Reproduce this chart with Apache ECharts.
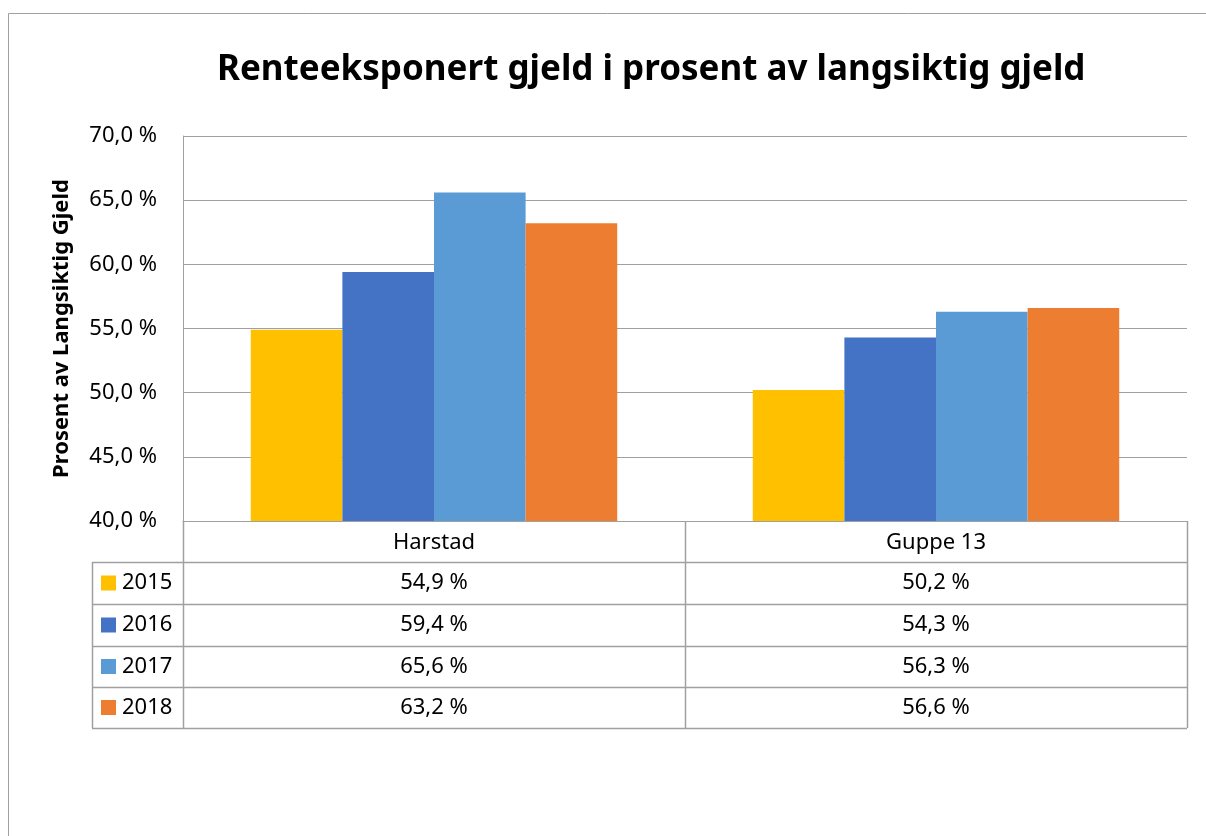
<!DOCTYPE html>
<html lang="no">
<head>
    <meta charset="utf-8" />
    <title>Renteeksponert gjeld</title>
    <script type="text/javascript" src="https://cdn.jsdelivr.net/npm/echarts@6/dist/echarts.min.js"></script>
    <style type="text/css">
        html, body { margin: 0; padding: 0; background: #fff; }
    </style>
</head>
<body>
    <div id="main" style="width:1206px;height:836px;"></div>

    <script type="text/javascript">
        var categories = ['Harstad', 'Guppe 13'];
        var years = ['2015', '2016', '2017', '2018'];
        var values_2015 = [54.9, 50.2];
        var values_2016 = [59.4, 54.3];
        var values_2017 = [65.6, 56.3];
        var values_2018 = [63.2, 56.6];
        var yearColors = ['#FFC000', '#4472C4', '#5B9BD5', '#ED7D31'];
        var yTicks = [40, 45, 50, 55, 60, 65, 70];

        var allValues = [values_2015, values_2016, values_2017, values_2018];
        var fontFam = '"Noto Sans", sans-serif';
        var lineCol = '#A0A0A0';

        function pct(v) {
            return v.toFixed(1).replace('.', ',') + ' %';
        }

        var myChart = echarts.init(document.getElementById('main'));

        // table layout
        var plotLeft = 183, plotRight = 1187, axisY = 521;
        var tableLeft = 92;
        var rowLines = [562, 604, 646, 687, 728];

        var series = [];
        for (var i = 0; i < years.length; i++) {
            series.push({
                name: years[i],
                type: 'bar',
                data: allValues[i],
                barGap: '0%',
                barCategoryGap: '27%',
                itemStyle: { color: yearColors[i] }
            });
        }

        var option = {
            animation: false,
            backgroundColor: '#fff',
            title: {
                text: 'Renteeksponert gjeld i prosent av langsiktig gjeld',
                left: 212,
                top: 48,
                textStyle: { fontFamily: fontFam, fontSize: 35, fontWeight: 'bold', color: '#000' }
            },
            grid: { left: plotLeft, right: 1206 - plotRight, top: 136, bottom: 836 - axisY },
            xAxis: {
                type: 'category',
                data: categories,
                axisLine: { show: true, lineStyle: { color: lineCol, width: 1 } },
                axisTick: { show: false },
                axisLabel: { margin: 11, fontFamily: fontFam, fontSize: 22, color: '#000' }
            },
            yAxis: {
                type: 'value',
                min: yTicks[0],
                max: yTicks[yTicks.length - 1],
                interval: 5,
                name: 'Prosent av Langsiktig Gjeld',
                nameLocation: 'middle',
                nameRotate: 90,
                nameGap: 110,
                nameTextStyle: { fontFamily: fontFam, fontSize: 22, fontWeight: 'bold', color: '#000' },
                axisLine: { show: true, lineStyle: { color: lineCol, width: 1 } },
                axisTick: { show: false },
                axisLabel: {
                    margin: 26,
                    fontFamily: fontFam, fontSize: 22, color: '#000',
                    formatter: function (v) { return pct(v); }
                },
                splitLine: { lineStyle: { color: lineCol, width: 1 } }
            },
            series: series
        };
        myChart.setOption(option);

        // data table below the axis
        var g = [];
        // outer chart border
        g.push({ type: 'rect', shape: { x: 8.5, y: 13.5, width: 1400, height: 1000 },
            style: { fill: null, stroke: lineCol, lineWidth: 1 }, silent: true });

        for (var r = 0; r < rowLines.length; r++) {
            g.push({ type: 'line', shape: { x1: tableLeft, y1: rowLines[r] + 0.5, x2: plotRight, y2: rowLines[r] + 0.5 },
                style: { stroke: lineCol, lineWidth: 1.5 } });
        }
        g.push({ type: 'line', shape: { x1: tableLeft + 0.5, y1: rowLines[0], x2: tableLeft + 0.5, y2: rowLines[rowLines.length - 1] },
            style: { stroke: lineCol, lineWidth: 1.5 } });
        var vx = [plotLeft, (plotLeft + plotRight) / 2, plotRight];
        for (var k = 0; k < vx.length; k++) {
            g.push({ type: 'line', shape: { x1: vx[k] + 0.5, y1: axisY, x2: vx[k] + 0.5, y2: rowLines[rowLines.length - 1] },
                style: { stroke: lineCol, lineWidth: 1.5 } });
        }

        for (var i = 0; i < years.length; i++) {
            var cy = (rowLines[i] + rowLines[i + 1]) / 2;
            g.push({ type: 'rect', shape: { x: 101, y: cy - 7.5, width: 15, height: 15 },
                style: { fill: yearColors[i] } });
            g.push({ type: 'text', x: 122, y: cy,
                style: { text: years[i], fontFamily: fontFam, fontSize: 22, fill: '#000', verticalAlign: 'middle' } });
            for (var c = 0; c < categories.length; c++) {
                var px = myChart.convertToPixel({ xAxisIndex: 0 }, categories[c]);
                g.push({ type: 'text', x: px, y: cy,
                    style: { text: pct(allValues[i][c]), fontFamily: fontFam, fontSize: 22, fill: '#000',
                        align: 'center', verticalAlign: 'middle' } });
            }
        }

        myChart.setOption({ graphic: g });
    </script>
</body>
</html>
